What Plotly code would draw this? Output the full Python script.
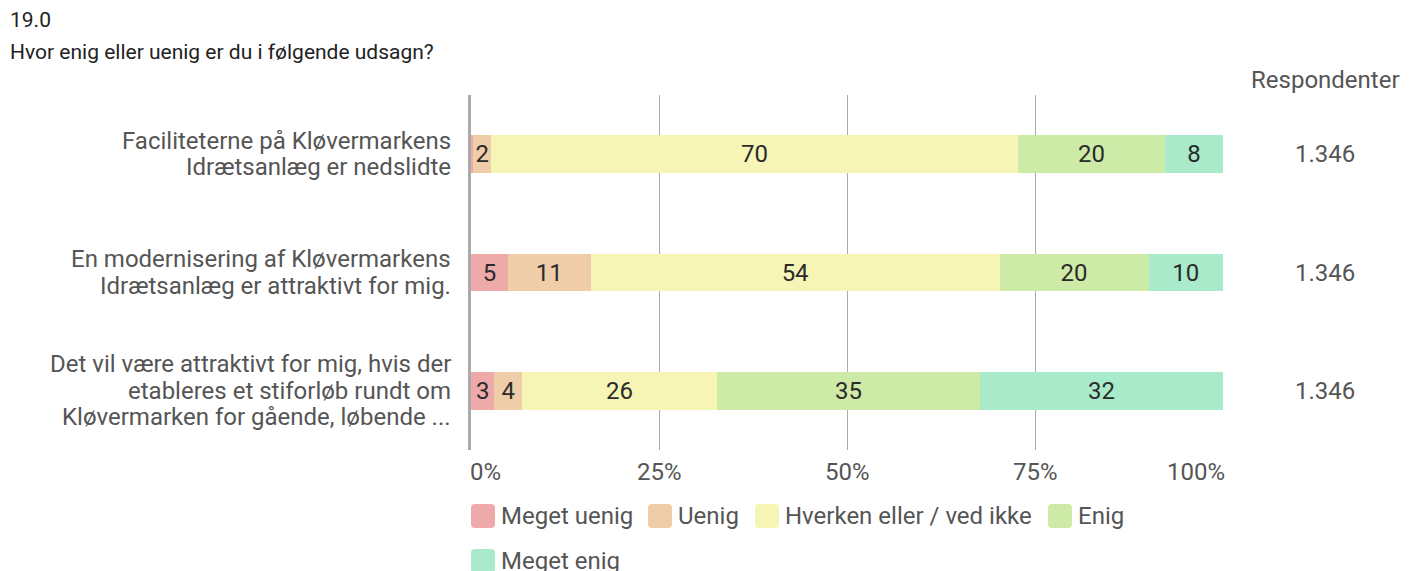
import plotly.graph_objects as go

# ---- data ----
questions = [
    "Faciliteterne på Kløvermarkens<br>Idrætsanlæg er nedslidte",
    "En modernisering af Kløvermarkens<br>Idrætsanlæg er attraktivt for mig.",
    "Det vil være attraktivt for mig, hvis der<br>etableres et stiforløb rundt om<br>Kløvermarken for gående, løbende ...",
]
series_names = ["Meget uenig", "Uenig", "Hverken eller / ved ikke", "Enig", "Meget enig"]
meget_uenig = [0.3, 4.9, 3.1]
uenig = [2.4, 11.0, 3.7]
hverken = [70.0, 54.4, 25.9]
enig = [19.6, 19.8, 35.0]
meget_enig = [7.7, 9.9, 32.3]
respondents = [1346, 1346, 1346]
x_ticks = [0, 25, 50, 75, 100]
x_tick_labels = ["0%", "25%", "50%", "75%", "100%"]

colors = ["#EEA9A9", "#F0CDA9", "#F7F5B6", "#CDEAA6", "#A8EACA"]
series_values = [meget_uenig, uenig, hverken, enig, meget_enig]

FONT = "Roboto"
LABEL_COLOR = "#555555"

# page-pixel helpers (plot area spans x 471..1223, y 95..450 on the page)
PX0, PX1, PY0, PY1 = 471, 1223, 95, 450
def px(x):
    return (x - PX0) / (PX1 - PX0)
def py(y):
    return (PY1 - y) / (PY1 - PY0)

fig = go.Figure()
for name, vals, col in zip(series_names, series_values, colors):
    labels = [str(round(v)) if round(v) > 0 else "" for v in vals]
    fig.add_trace(go.Bar(
        y=questions, x=vals, name=name, orientation="h",
        marker=dict(color=col, line=dict(width=0)),
        text=labels, textposition="inside", insidetextanchor="middle",
        textfont=dict(family=FONT, size=24, color="#2b2b2b"),
        constraintext="none", showlegend=False,
    ))

def fmt_thousands(n):
    return f"{n:,}".replace(",", ".")

annotations = [
    dict(text="19.0", xref="paper", yref="paper", x=px(8), y=py(20),
         xanchor="left", yanchor="middle", showarrow=False,
         font=dict(family=FONT, size=21, color="#222222")),
    dict(text="Hvor enig eller uenig er du i følgende udsagn?", xref="paper", yref="paper",
         x=px(8), y=py(52), xanchor="left", yanchor="middle", showarrow=False,
         font=dict(family=FONT, size=21, color="#222222")),
    dict(text="Respondenter", xref="paper", yref="paper", x=px(1325), y=py(80),
         xanchor="center", yanchor="middle", showarrow=False,
         font=dict(family=FONT, size=24, color=LABEL_COLOR)),
]
for q, r in zip(questions, respondents):
    annotations.append(dict(text=fmt_thousands(r), xref="paper", yref="y", x=px(1325), y=q,
                            xanchor="center", yanchor="middle", showarrow=False,
                            font=dict(family=FONT, size=24, color=LABEL_COLOR)))
    # category label, one annotation per line for tight line spacing
    lines = q.split("<br>")
    n = len(lines)
    for i, line in enumerate(lines):
        annotations.append(dict(text=line, xref="paper", yref="y", x=px(453), y=q,
                                xanchor="right", yanchor="middle", showarrow=False,
                                yshift=((n - 1) / 2 - i) * 26.5,
                                font=dict(family=FONT, size=24, color=LABEL_COLOR)))

# x tick labels: first left-aligned, last right-aligned, others centred
for i, (tv, tl) in enumerate(zip(x_ticks, x_tick_labels)):
    anchor = "left" if i == 0 else ("right" if i == len(x_ticks) - 1 else "center")
    annotations.append(dict(text=tl, xref="x", yref="paper", x=tv, y=py(472),
                            xanchor=anchor, yanchor="middle", showarrow=False,
                            xshift=-3 if i == 0 else (4 if i == len(x_ticks) - 1 else 0),
                            font=dict(family=FONT, size=24, color=LABEL_COLOR)))

# custom legend (large rounded swatches, wrapped like the reference)
legend_pos = [(471, 516), (648, 516), (755, 516), (1048, 516), (471, 561)]
shapes = []
swatch = ("M -8,-12 L 8,-12 Q 12,-12 12,-8 L 12,8 Q 12,12 8,12 L -8,12 "
          "Q -12,12 -12,8 L -12,-8 Q -12,-12 -8,-12 Z")
for (lx, ly), name, col in zip(legend_pos, series_names, colors):
    shapes.append(dict(type="path", xref="paper", yref="paper",
                       xsizemode="pixel", ysizemode="pixel",
                       xanchor=px(lx + 12), yanchor=py(ly), path=swatch,
                       fillcolor=col, line=dict(width=0), layer="above"))
    annotations.append(dict(text=name, xref="paper", yref="paper", x=px(lx + 28), y=py(ly),
                            xanchor="left", yanchor="middle", showarrow=False,
                            font=dict(family=FONT, size=24, color=LABEL_COLOR)))

# the page body has an 8px margin, so the figure is offset by 8px
fig.update_layout(
    width=1409, height=563,
    margin=dict(l=463, r=194, t=87, b=121, autoexpand=False),
    barmode="stack", bargap=0.68,
    plot_bgcolor="white", paper_bgcolor="white",
    font=dict(family=FONT, size=24, color=LABEL_COLOR),
    xaxis=dict(range=[0, 100], tickvals=x_ticks, showticklabels=False,
               showgrid=True, gridcolor="#ABABAB", gridwidth=1, zeroline=False,
               ticks=""),
    yaxis=dict(autorange="reversed", showline=True, linecolor="#AAAAAA", linewidth=3,
               showgrid=False, ticks="", showticklabels=False),
    showlegend=False,
    annotations=annotations,
    shapes=shapes,
)

fig.write_html("out.html")
